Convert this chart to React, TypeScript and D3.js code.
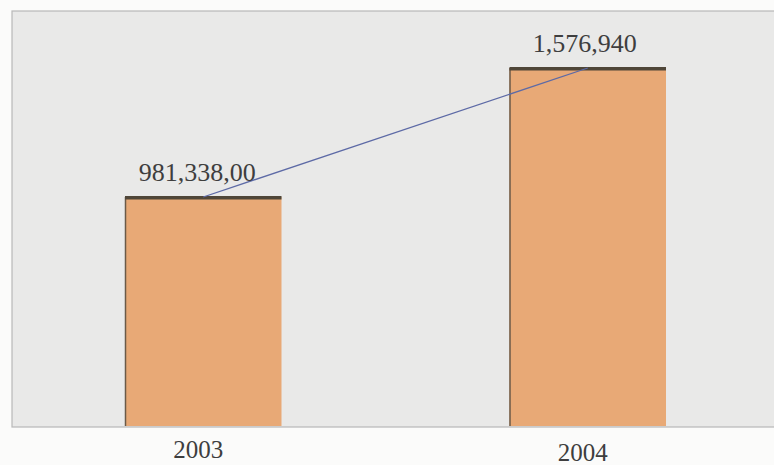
import React from "react";
import * as d3 from "d3";

const categories = ["2003", "2004"];
const values = [981338, 1576940];
const valueLabels = ["981,338,00", "1,576,940"];
const yDomain = [-76000, 1576940];

const W = 774;
const H = 465;
const baseline = 426;

export default function App() {
  const x = d3.scaleBand<string>().domain(categories).range([125, 666]).paddingInner(0.593).paddingOuter(0);
  const y = d3.scaleLinear().domain(yDomain).range([baseline, 68]);
  const bw = x.bandwidth();
  const line = d3
    .line<number>()
    .x((_, i) => (x(categories[i]) as number) + bw / 2)
    .y((d) => y(d));

  return (
    <svg
      width={W}
      height={H}
      style={{ position: "absolute", left: 0, top: 0, background: "#fbfbfa" }}
      fontFamily="'Liberation Serif', 'DejaVu Serif', serif"
    >
      <rect x={12} y={11} width={W} height={baseline + 1 - 11} fill="#e9e9e8" stroke="#b8b8b8" strokeWidth={1.2} />
      {values.map((v, i) => {
        const bx = x(categories[i]) as number;
        const top = y(v);
        return (
          <g key={i}>
            <rect x={bx} y={top} width={bw} height={baseline - top} fill="#e8a976" />
            <line x1={bx + 0.5} x2={bx + 0.5} y1={top} y2={baseline} stroke="#6b5a48" strokeWidth={1.5} />
            <rect x={bx} y={top - 1} width={bw} height={3.5} fill="#4f4638" />
          </g>
        );
      })}
      <path d={line(values) || ""} fill="none" stroke="#5d6aa6" strokeWidth={1.3} />
      {values.map((v, i) => (
        <text
          key={"l" + i}
          x={(x(categories[i]) as number) + bw / 2 - 6 + i * 3}
          y={y(v) - 16}
          textAnchor="middle"
          fontSize={26}
          fill="#3e3e3e"
        >
          {valueLabels[i]}
        </text>
      ))}
      {categories.map((c, i) => (
        <text
          key={"c" + i}
          x={(x(c) as number) + bw / 2 - 5}
          y={458 + i * 3}
          textAnchor="middle"
          fontSize={25}
          fill="#3e3e3e"
        >
          {c}
        </text>
      ))}
    </svg>
  );
}
